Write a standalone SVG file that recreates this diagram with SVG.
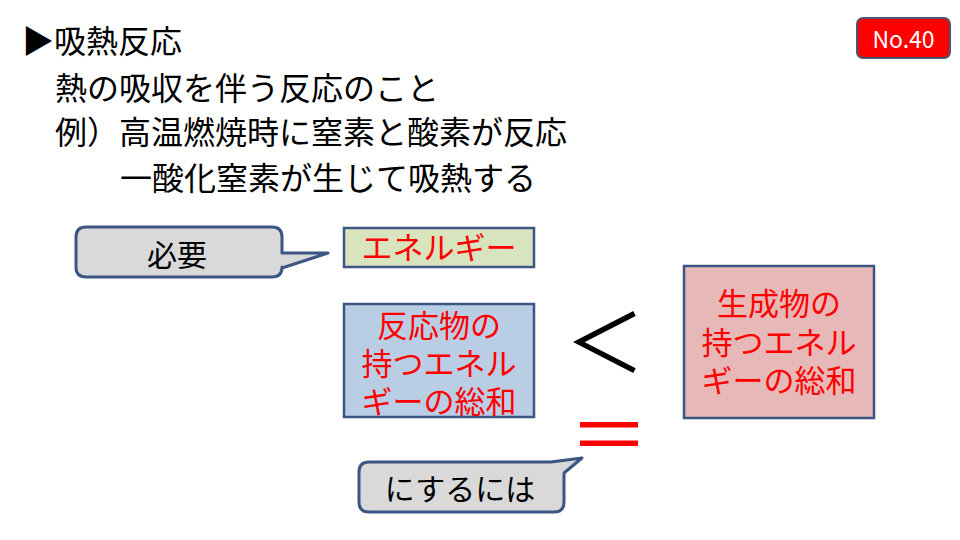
<svg xmlns="http://www.w3.org/2000/svg" width="960" height="540" viewBox="0 0 960 540">
<style>
.t{font-family:"Noto Sans CJK JP","Liberation Sans",sans-serif;}
.head{font-size:32px;fill:#000;}
.box{stroke:#3b5682;stroke-width:2.5;}
.call{fill:#d9d9d9;stroke:#3b5682;stroke-width:3;stroke-linejoin:round;}
.red{fill:#ff0000;font-size:31px;text-anchor:middle;}
.blk{fill:#000;font-size:30px;text-anchor:middle;}
</style>
<rect width="960" height="540" fill="#fff"/>
<g id="title">
<text class="t head" x="22" y="53">▶吸熱反応</text>
<text class="t head" x="55" y="100">熱の吸収を伴う反応のこと</text>
<text class="t head" x="55" y="144">例）高温燃焼時に窒素と酸素が反応</text>
<text class="t head" x="120" y="190">一酸化窒素が生じて吸熱する</text>
</g>
<g id="badge">
<rect x="857" y="18" width="93" height="40" rx="6" fill="#ff0000" stroke="#4a5570" stroke-width="2"/>
<text class="t" x="903.5" y="48" font-size="23" fill="#fff" text-anchor="middle">No.40</text>
</g>
<g id="callout-hitsuyou">
<path class="call" d="M86,227 H272 Q282,227 282,237 V253 L328,253 L282,268 V267 Q282,277 272,277 H86 Q76,277 76,267 V237 Q76,227 86,227 Z"/>
<text class="t blk" x="177" y="266">必要</text>
</g>
<g id="energy">
<rect class="box" x="344" y="228" width="190" height="39" fill="#d7e4bd"/>
<text class="t red" x="439" y="259">エネルギー</text>
</g>
<g id="reactants">
<rect class="box" x="344" y="304" width="190" height="113" fill="#b9cde5"/>
<text class="t red" x="439" y="337">反応物の</text>
<text class="t red" x="439" y="375">持つエネル</text>
<text class="t red" x="439" y="413">ギーの総和</text>
</g>
<g id="products">
<rect class="box" x="684" y="266" width="190" height="152" fill="#e6b9b8"/>
<text class="t red" x="779" y="315">生成物の</text>
<text class="t red" x="779" y="354">持つエネル</text>
<text class="t red" x="779" y="392">ギーの総和</text>
</g>
<g id="less">
<text class="t" x="605" y="372" font-size="80" text-anchor="middle" fill="#000">＜</text>
</g>
<g id="equal">
<text class="t" x="609" y="464" font-size="80" text-anchor="middle" fill="#ff0000">＝</text>
</g>
<g id="callout-nisuruniha">
<path class="call" d="M369,462 H551 L582,458 L564,473 V502 Q564,512 554,512 H369 Q359,512 359,502 V472 Q359,462 369,462 Z"/>
<text class="t blk" x="460" y="500">にするには</text>
</g>
<g id="connectors"></g>
</svg>
